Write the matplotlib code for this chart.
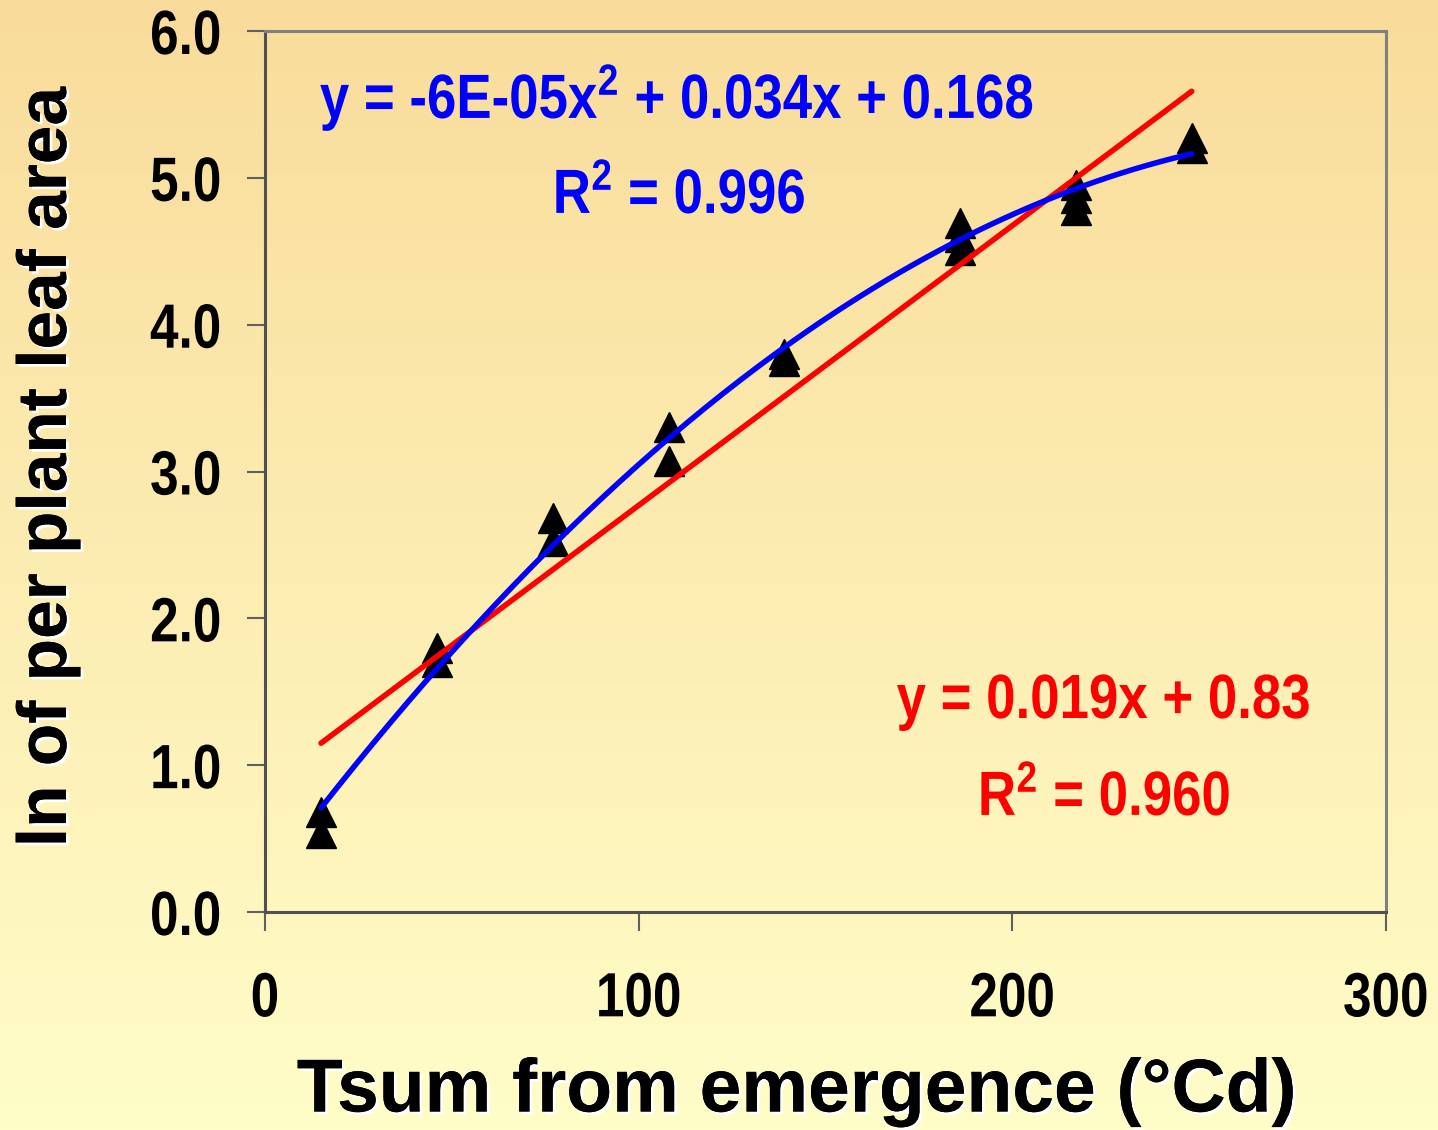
import numpy as np
import matplotlib
matplotlib.use('Agg')
from matplotlib import pyplot as plt
import matplotlib.patheffects as pe
from matplotlib.transforms import Affine2D

# data
tsum = [15, 15, 46, 46, 77, 77, 108, 108, 139, 139,
        186, 186, 186, 217, 217, 217, 248, 248]
ln_area = [0.54, 0.68, 1.70, 1.80, 2.53, 2.68, 3.07, 3.30, 3.75, 3.80,
           4.51, 4.60, 4.69, 4.78, 4.86, 4.95, 5.20, 5.27]
x_ticks = [0, 100, 200, 300]
y_ticks = [0.0, 1.0, 2.0, 3.0, 4.0, 5.0, 6.0]
eq_poly = ['y = -6E-05x$^{2}$ + 0.034x + 0.168', 'R$^{2}$ = 0.996']
eq_lin = ['y = 0.019x + 0.83', 'R$^{2}$ = 0.960']


class Narrow(pe.AbstractPathEffect):
    # squeeze glyphs horizontally (Arial Narrow look) around an anchor
    def __init__(self, sx=0.82, anchor='center'):
        super().__init__()
        self.sx = sx
        self.anchor = anchor

    def draw_path(self, renderer, gc, tpath, affine, rgbFace=None):
        ext = tpath.get_extents()
        if self.anchor == 'right':
            cx = ext.x1
        elif self.anchor == 'left':
            cx = ext.x0
        else:
            cx = (ext.x0 + ext.x1) / 2
        t = Affine2D().translate(-cx, 0).scale(self.sx, 1).translate(cx, 0)
        renderer.draw_path(gc, tpath, t + affine, rgbFace)


plt.rcParams['font.family'] = 'Liberation Sans'
plt.rcParams['font.weight'] = 'bold'
plt.rcParams['mathtext.fontset'] = 'custom'
plt.rcParams['mathtext.rm'] = 'Liberation Sans:bold'
plt.rcParams['mathtext.it'] = 'Liberation Sans:bold'
plt.rcParams['mathtext.bf'] = 'Liberation Sans:bold'
nsize = 45

W, H = 1438, 1130
fig = plt.figure(figsize=(W / 100, H / 100), dpi=100)

# background gradient
bg = fig.add_axes([0, 0, 1, 1], zorder=-10)
top = np.array([249, 220, 155]) / 255
bot = np.array([255, 253, 200]) / 255
t = np.linspace(0, 1, 256)[:, None]
grad = top[None, :] * (1 - t) + bot[None, :] * t
bg.imshow(grad[:, None, :], aspect='auto', extent=[0, 1, 0, 1])
bg.axis('off')

ax = fig.add_axes([265 / W, 1 - 912 / H, (1386 - 265) / W, (912 - 31) / H])
ax.set_facecolor('none')

xs = np.array(tsum, dtype=float)
ys = np.array(ln_area)
ax.plot(xs, ys, linestyle='none', marker='^', ms=22, color='black', zorder=3)

xx = np.linspace(min(tsum), max(tsum), 200)
lin = np.polyfit(xs, ys, 1)
quad = np.polyfit(xs, ys, 2)
ax.plot(xx, np.polyval(lin, xx), color='#ff0000', lw=4, zorder=4, solid_capstyle='round')
ax.plot(xx, np.polyval(quad, xx), color='#0000ff', lw=4, zorder=5, solid_capstyle='round')

ax.set_xlim(0, 300)
ax.set_ylim(0, 6)
ax.set_xticks(x_ticks)
ax.set_yticks(y_ticks)
ax.set_xticklabels([str(v) for v in x_ticks], fontsize=nsize, fontweight='bold',
                   path_effects=[Narrow(anchor='center')])
ax.set_yticklabels(['%.1f' % v for v in y_ticks], fontsize=nsize, fontweight='bold',
                   path_effects=[Narrow(anchor='right')])
ax.tick_params(axis='y', direction='out', length=13, width=1.5, color='#606060', pad=18)
ax.tick_params(axis='x', direction='out', length=14, width=1.5, color='#606060', pad=28)
for s in ['top', 'right']:
    ax.spines[s].set_color('#808080')
    ax.spines[s].set_linewidth(2.2)
for s in ['left', 'bottom']:
    ax.spines[s].set_color('#505050')
    ax.spines[s].set_linewidth(2.2)

shadow = [pe.withSimplePatchShadow(offset=(2, -2), shadow_rgbFace='white', alpha=1), pe.Normal()]
fig.text(797 / W, 1 - 1092 / H, 'Tsum from emergence (°Cd)', fontsize=54, fontweight='bold',
         ha='center', va='center', path_effects=shadow)
fig.text(48 / W, 1 - 467 / H, 'ln of per plant leaf area', fontsize=50, fontweight='bold',
         ha='center', va='center', rotation=90, path_effects=shadow)

narrow = [Narrow(sx=0.845, anchor='center')]
fig.text(677 / W, 1 - 118 / H, eq_poly[0], fontsize=nsize, fontweight='bold',
         color='#0000ff', ha='center', va='baseline', path_effects=narrow)
fig.text(679 / W, 1 - 213 / H, eq_poly[1], fontsize=nsize, fontweight='bold',
         color='#0000ff', ha='center', va='baseline', path_effects=narrow)
fig.text(1104 / W, 1 - 718 / H, eq_lin[0], fontsize=nsize, fontweight='bold',
         color='#ff0000', ha='center', va='baseline', path_effects=narrow)
fig.text(1104 / W, 1 - 815 / H, eq_lin[1], fontsize=nsize, fontweight='bold',
         color='#ff0000', ha='center', va='baseline', path_effects=narrow)

fig.savefig('out.png', dpi=100)
